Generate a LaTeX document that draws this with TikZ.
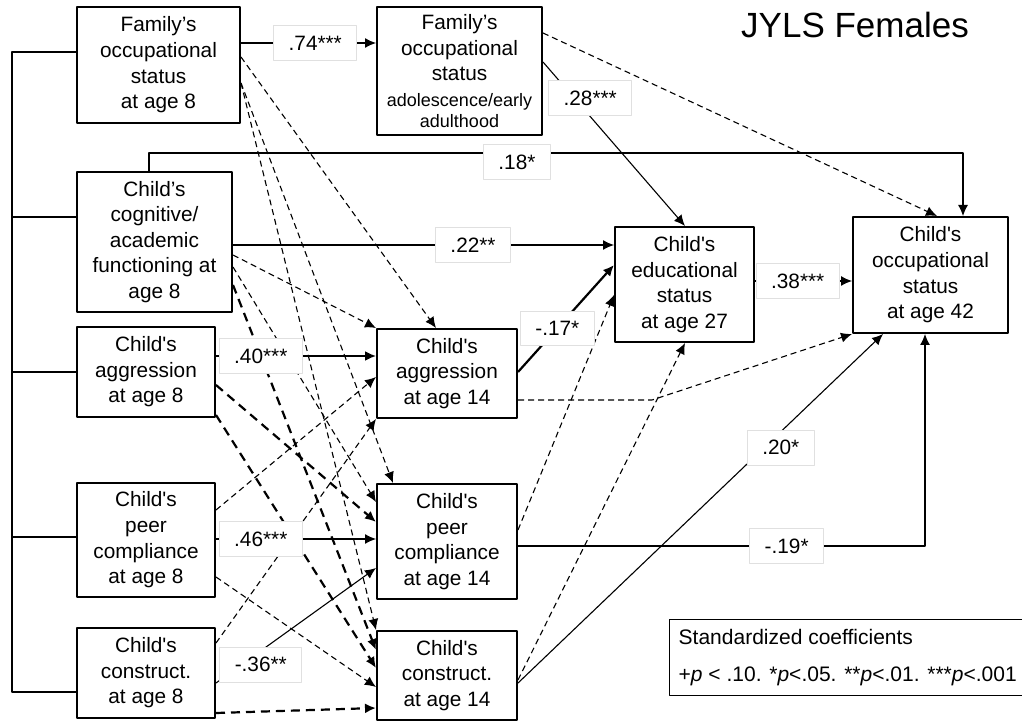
\documentclass[tikz,border=0pt]{standalone}
\usepackage{fontspec}
\setmainfont{Liberation Sans}
\usetikzlibrary{arrows.meta}
\newcommand{\sq}{\textquotesingle}
\newcommand{\smallf}{\fontsize{9}{10.5}\selectfont}
\tikzset{
 box/.style={draw, line width=1pt, align=center, inner sep=0pt, font=\fontsize{10.4}{12.8}\selectfont},
 lbl/.style={fill=white, draw=black!12, line width=.4pt, inner xsep=7.5pt, inner ysep=5pt, font=\fontsize{10.4}{12.8}\selectfont},
 legbox/.style={draw, line width=.7pt, align=left, inner xsep=4.5pt, inner ysep=4.7pt, font=\fontsize{10.5}{13}\selectfont},
 conn/.style={line width=.55pt},
 bold/.style={line width=1.1pt},
 dsh/.style={line width=.55pt, dash pattern=on 3pt off 2pt},
 tdsh/.style={line width=1.1pt, dash pattern=on 4.5pt off 3pt},
 brk/.style={line width=1pt},
}
\begin{document}
\begin{tikzpicture}[x=.5pt, y=-.5pt, line join=round, >={Latex[length=5.5pt,width=5pt]}]
 \useasboundingbox (0,0) rectangle (1022,721);
 % boxes
 \node[box, minimum width=81.5pt, minimum height=58pt] (fam8) at (158.5,65) {Family’s\\occupational\\status\\at age 8};
 \node[box, minimum width=82.5pt, minimum height=64pt] (famadol) at (459.5,71) {Family’s\\occupational\\status\\{\smallf adolescence/early}\\[-2.4pt]{\smallf adulthood}};
 \node[box, minimum width=77.5pt, minimum height=70pt] (cog8) at (154.5,242) {Child’s\\cognitive/\\academic\\functioning at\\age 8};
 \node[box, minimum width=69pt, minimum height=45pt] (aggr8) at (146,372) {Child\sq s\\aggression\\at age 8};
 \node[box, minimum width=69pt, minimum height=57pt] (peer8) at (146,540) {Child\sq s\\peer\\compliance\\at age 8};
 \node[box, minimum width=69pt, minimum height=45pt] (constr8) at (146,673) {Child\sq s\\construct.\\at age 8};
 \node[box, minimum width=70pt, minimum height=44.5pt] (aggr14) at (447,373.5) {Child\sq s\\aggression\\at age 14};
 \node[box, minimum width=70pt, minimum height=57.5pt] (peer14) at (447,541.5) {Child\sq s\\peer\\compliance\\at age 14};
 \node[box, minimum width=70pt, minimum height=44.5pt] (constr14) at (447,675.5) {Child\sq s\\construct.\\at age 14};
 \node[box, minimum width=69.5pt, minimum height=57.5pt] (edu27) at (684.5,284.5) {Child\sq s\\educational\\status\\at age 27};
 \node[box, minimum width=77.5pt, minimum height=58pt] (occ42) at (930.5,275) {Child\sq s\\occupational\\status\\at age 42};
 \node[font=\fontsize{17.5}{21}\selectfont, anchor=base] (title) at (855,38) {JYLS Females};
 \node[legbox, anchor=north west, minimum width=174.5pt, minimum height=38pt] (leg) at (669,619)
  {Standardized coefficients\\[5.5pt]+\textit{p} < .10. *\textit{p}<.05. **\textit{p}<.01. ***\textit{p}<.001};
 % bracket on the left
 \coordinate (bk) at (12,0);
 \draw[brk] (fam8.west |- 0,52) -| (bk |- 0,692) -- (constr8.west |- 0,692);
 \foreach \b/\y in {cog8/217, aggr8/372, peer8/537}
  \draw[brk] (\b.west |- 0,\y) -- (bk |- 0,\y);
 % dashed paths
 \draw[dsh,->] (famadol.east |- 0,33) -- (occ42.north -| 937,0);
 \draw[dsh,->] (fam8.east |- 0,57) -- (aggr14.north -| 436,0);
 \draw[dsh,->] (fam8.east |- 0,83) -- (peer14.north -| 393,0);
 \draw[dsh,->] (fam8.east |- 0,83) -- (constr14.north west);
 \draw[dsh,->] (cog8.east |- 0,255) -- (aggr14.north west);
 \draw[dsh,->] (cog8.east |- 0,267) -- (peer14.west |- 0,502);
 \draw[dsh,->] (peer8.east |- 0,510) -- (aggr14.west |- 0,377);
 \draw[dsh,->] (peer8.east |- 0,577) -- (constr14.west |- 0,687);
 \draw[dsh,->] (constr8.east |- 0,643) -- (aggr14.south west);
 \coordinate (k14) at (652,400);
 \draw[dsh,->] (aggr14.east |- k14) -- (k14) -- (occ42.south west);
 \draw[dsh,->] (peer14.east |- 0,530) -- (edu27.west |- 0,295);
 \draw[dsh,->] (constr14.east |- 0,680) -- (edu27.south -| 685,0);
 \draw[tdsh,->] (cog8.east |- 0,285) -- (constr14.west |- 0,650);
 \draw[tdsh,->] (aggr8.east |- 0,385) -- (peer14.west |- 0,522);
 \draw[tdsh,->] (aggr8.east |- 0,415) -- (constr14.west |- 0,668);
 \draw[tdsh,->] (constr8.east |- 0,713) -- (constr14.west |- 0,708);
 % solid paths with coefficients
 \coordinate (c18) at (963,153);
 \draw[conn,->] (fam8.east |- 0,43) -- node[lbl,pos=.55] (l74) {.74***} (famadol.west |- 0,43);
 \draw[conn,->] (famadol.east |- 0,62) -- node[lbl,pos=.22,xshift=8pt] (l28) {.28***} (edu27.north -| 685,0);
 \draw[conn,->] (cog8.north -| 149,0) |- node[lbl,pos=.726,yshift=-4.5pt] (l18) {.18*} (c18) -- (occ42.north -| c18);
 \draw[conn,->] (cog8.east |- 0,245) -- node[lbl,pos=.63] (l22) {.22**} (edu27.west |- 0,245);
 \draw[conn,->] (edu27.east |- 0,281) -- node[lbl,pos=.44] (l38) {.38***} (occ42.west |- 0,281);
 \draw[conn,->,line width=.9pt] (aggr8.east |- 0,356) -- node[lbl,pos=.28] (l40) {.40***} (aggr14.west |- 0,356);
 \draw[conn,->] (peer8.east |- 0,539) -- node[lbl,pos=.28] (l46) {.46***} (peer14.west |- 0,539);
 \draw[conn,->] (constr8.east |- 0,683) -- node[lbl,pos=.28,yshift=-7pt] (l36) {-.36**} (peer14.west |- 0,568);
 \draw[bold,->] (aggr14.east |- 0,372) -- node[lbl,pos=.41] (l17) {-.17*} (edu27.west |- 0,265);
 \draw[conn,->] (peer14.east |- 0,546) -| node[lbl,pos=.33] (l19) {-.19*} (occ42.south -| 925,0);
 \draw[conn,->] (constr14.east |- 0,683) -- node[lbl,pos=.72,yshift=-8pt] (l20) {.20*} (occ42.south -| 883,0);
\end{tikzpicture}
\end{document}
